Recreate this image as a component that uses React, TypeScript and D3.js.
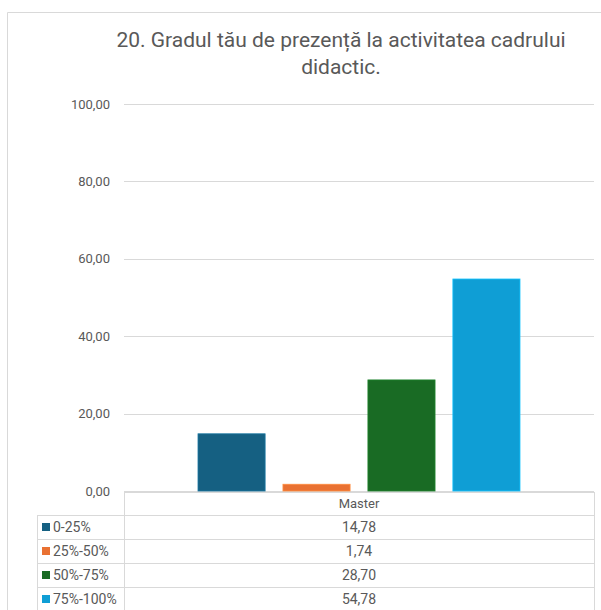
import React, { useEffect, useRef } from "react";
import * as d3 from "d3";

// chart data
const categories = ["Master"];
const seriesNames = ["0-25%", "25%-50%", "50%-75%", "75%-100%"];
const seriesValues = [14.78, 1.74, 28.7, 54.78];
const seriesColors = ["#156082", "#E97132", "#196B24", "#0F9ED5"];
const yTicks = [0, 20, 40, 60, 80, 100];
const titleLines = ["20. Gradul tău de prezență la activitatea cadrului", "didactic."];

const W = 601;
const H = 610;
const grey = "#d9d9d9";
const textColor = "#595959";
const font = "Roboto, 'Liberation Sans', sans-serif";

const roLocale = d3.formatLocale({ decimal: ",", thousands: ".", grouping: [3], currency: ["", " lei"] });
const fmt = roLocale.format(".2f");

const App = () => {
  const ref = useRef<SVGSVGElement | null>(null);

  useEffect(() => {
    const svg = d3.select(ref.current);
    svg.selectAll("*").remove();

    const plot = { left: 124, right: 594, top: 104, bottom: 491 };
    const rowH = 24;
    const headerTop = plot.bottom + 1;
    const headerH = 23;
    const legendLeft = 37;

    // outer chart border (left + top, rest is off the picture)
    svg.append("path")
      .attr("d", `M7.5,${H} V12.5 H${W}`)
      .attr("fill", "none")
      .attr("stroke", grey)
      .attr("stroke-width", 1);

    // title
    const title = svg.append("text")
      .attr("x", 341)
      .attr("y", 47)
      .attr("text-anchor", "middle")
      .attr("font-family", font)
      .attr("font-size", 21)
      .attr("fill", textColor);
    titleLines.forEach((t, i) => {
      title.append("tspan").attr("x", 341).attr("dy", i === 0 ? 0 : 27).text(t);
    });

    const y = d3.scaleLinear().domain([0, 100]).range([plot.bottom, plot.top]);

    const x0 = d3.scaleBand().domain(categories).range([plot.left, plot.right]);
    const outerGap = 74;
    const x1 = d3.scaleBand()
      .domain(seriesNames)
      .range([outerGap, x0.bandwidth() - outerGap])
      .paddingInner(0.21);

    // grid lines
    svg.append("g")
      .selectAll("line")
      .data(yTicks)
      .enter()
      .append("line")
      .attr("x1", plot.left)
      .attr("x2", plot.right)
      .attr("y1", d => Math.round(y(d)) + 0.5)
      .attr("y2", d => Math.round(y(d)) + 0.5)
      .attr("stroke", grey)
      .attr("stroke-width", 1);

    // y labels
    svg.append("g")
      .selectAll("text")
      .data(yTicks)
      .enter()
      .append("text")
      .attr("x", plot.left - 14)
      .attr("y", d => y(d))
      .attr("dy", "0.35em")
      .attr("text-anchor", "end")
      .attr("font-family", font)
      .attr("font-size", 13)
      .attr("fill", textColor)
      .text(d => fmt(d));

    // bars
    categories.forEach(cat => {
      svg.append("g")
        .attr("transform", `translate(${x0(cat)},0)`)
        .selectAll("rect")
        .data(seriesValues)
        .enter()
        .append("rect")
        .attr("x", (d, i) => x1(seriesNames[i]) as number)
        .attr("width", x1.bandwidth())
        .attr("y", d => y(d))
        .attr("height", d => y(0) - y(d))
        .attr("fill", (d, i) => seriesColors[i])
        .attr("stroke", (d, i) => d3.color(seriesColors[i])!.brighter(0.6).formatHex())
        .attr("stroke-width", 0.8);
    });

    // data table
    const tbl = svg.append("g").attr("stroke", grey).attr("stroke-width", 1).attr("fill", "none");
    const nRows = seriesNames.length;
    const tableBottom = headerTop + headerH + nRows * rowH;
    tbl.append("line").attr("x1", plot.left).attr("x2", plot.right).attr("y1", headerTop + 0.5).attr("y2", headerTop + 0.5);
    d3.range(nRows + 1).forEach(r => {
      const yy = headerTop + headerH + r * rowH + 0.5;
      tbl.append("line").attr("x1", legendLeft).attr("x2", plot.right).attr("y1", yy).attr("y2", yy);
    });
    tbl.append("line").attr("x1", plot.left + 0.5).attr("x2", plot.left + 0.5).attr("y1", headerTop).attr("y2", tableBottom);
    tbl.append("line").attr("x1", plot.right + 0.5).attr("x2", plot.right + 0.5).attr("y1", headerTop).attr("y2", tableBottom);
    tbl.append("line").attr("x1", legendLeft + 0.5).attr("x2", legendLeft + 0.5).attr("y1", headerTop + headerH).attr("y2", tableBottom);

    const cx = (plot.left + plot.right) / 2;
    svg.append("text")
      .attr("x", cx)
      .attr("y", headerTop + headerH / 2)
      .attr("dy", "0.35em")
      .attr("text-anchor", "middle")
      .attr("font-family", font)
      .attr("font-size", 13)
      .attr("fill", textColor)
      .text(categories[0]);

    const rows = svg.append("g")
      .selectAll("g")
      .data(seriesNames)
      .enter()
      .append("g")
      .attr("transform", (d, i) => `translate(0,${headerTop + headerH + i * rowH + rowH / 2})`);

    rows.append("rect")
      .attr("x", 42)
      .attr("y", -4)
      .attr("width", 8)
      .attr("height", 8)
      .attr("fill", (d, i) => seriesColors[i]);

    rows.append("text")
      .attr("x", 53)
      .attr("dy", "0.35em")
      .attr("font-family", font)
      .attr("font-size", 14)
      .attr("fill", textColor)
      .text(d => d);

    rows.append("text")
      .attr("x", cx)
      .attr("dy", "0.35em")
      .attr("text-anchor", "middle")
      .attr("font-family", font)
      .attr("font-size", 14)
      .attr("fill", textColor)
      .text((d, i) => fmt(seriesValues[i]));
  }, []);

  return (
    <div style={{ position: "absolute", left: 0, top: 0 }}>
      <svg ref={ref} width={W} height={H} style={{ display: "block", background: "#fff" }} />
    </div>
  );
};

export default App;
